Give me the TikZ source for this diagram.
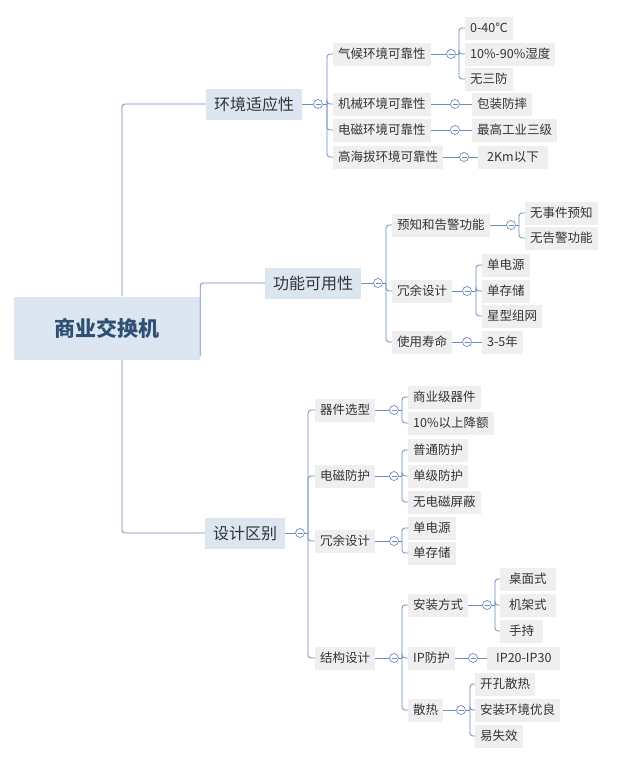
\documentclass[tikz,border=0pt]{standalone}
\usepackage{fontspec}
\setmainfont{Noto Sans CJK SC}
\begin{document}
\begin{tikzpicture}[x=1pt,y=-1pt,
 ln/.style={draw=lc,line width=0.8pt,rounded corners=3pt},
 leaf/.style={anchor=west,fill=bx,inner xsep=5pt,minimum height=23pt,font=\fontsize{12.5}{14}\selectfont,text=tx},
 lone/.style={anchor=center,fill=lb,minimum height=31pt,font=\fontsize{16}{18}\selectfont,text=tx,inner xsep=8pt},
 tog/.style={circle,draw=lc,fill=white,line width=0.7pt,minimum size=9pt,inner sep=0pt,
   path picture={\draw[lc,line width=0.7pt] ([xshift=-2.5pt]path picture bounding box.center) -- ([xshift=2.5pt]path picture bounding box.center);}}]
\definecolor{lc}{HTML}{6A8CBF}\definecolor{bx}{HTML}{EFEFEF}\definecolor{lb}{HTML}{DCE6F1}\definecolor{tx}{HTML}{333333}\definecolor{rc}{HTML}{2F4F73}
\useasboundingbox (0,0) rectangle (624,763);
% root
\node[fill=lb,minimum width=186pt,minimum height=63pt,font=\fontsize{21}{24}\selectfont\bfseries,text=rc] (root) at (107,328) {商业交换机};
% level 1
\node[lone] (A) at (254,104) {环境适应性};
\node[lone] (B) at (313,283) {功能可用性};
\node[lone] (C) at (245,533) {设计区别};
\draw[ln] ([xshift=15pt]root.north) |- (A.west);
\draw[ln] ([xshift=15pt]root.south) |- (C.west);
\draw[ln] ([yshift=-28pt]root.east) -- ++(0,-6) |- (B.west);
% ---- A
\node[tog] (tA) at (318,104) {};
\coordinate (sA) at (327,104);
\draw[ln] (A.east) -- (tA.west); \draw[ln] (tA.east) -- (sA);
\node[leaf] (A1) at (333,54) {气候环境可靠性};
\node[leaf] (A2) at (333,104) {机械环境可靠性};
\node[leaf] (A3) at (333,130) {电磁环境可靠性};
\node[leaf] (A4) at (333,157) {高海拔环境可靠性};
\foreach \c in {A1,A2,A3,A4} \draw[ln] (sA) |- (\c.west);
\node[tog] (tA1) at (451,54) {}; \coordinate (sA1) at (459,54);
\draw[ln] (A1.east) -- (tA1.west); \draw[ln] (tA1.east) -- (sA1);
\node[leaf] (A11) at (465,28) {0-40℃};
\node[leaf] (A12) at (465,54) {10\%-90\%湿度};
\node[leaf] (A13) at (465,79) {无三防};
\foreach \c in {A11,A12,A13} \draw[ln] (sA1) |- (\c.west);
\node[tog] (tA2) at (455,104) {}; \node[leaf] (A21) at (472,104) {包装防摔};
\draw[ln] (A2.east) -- (tA2.west); \draw[ln] (tA2.east) -- (A21.west);
\node[tog] (tA3) at (455,130) {}; \node[leaf] (A31) at (472,130) {最高工业三级};
\draw[ln] (A3.east) -- (tA3.west); \draw[ln] (tA3.east) -- (A31.west);
\node[tog] (tA4) at (464,157) {}; \node[leaf,inner xsep=9pt] (A41) at (478,157) {2Km以下};
\draw[ln] (A4.east) -- (tA4.west); \draw[ln] (tA4.east) -- (A41.west);
% ---- B
\node[tog] (tB) at (378,283) {}; \coordinate (sB) at (386,283);
\draw[ln] (B.east) -- (tB.west); \draw[ln] (tB.east) -- (sB);
\node[leaf] (B1) at (392,225) {预知和告警功能};
\node[leaf] (B2) at (392,291) {冗余设计};
\node[leaf] (B3) at (392,342) {使用寿命};
\foreach \c in {B1,B2,B3} \draw[ln] (sB) |- (\c.west);
\node[tog] (tB1) at (511,225) {}; \coordinate (sB1) at (519,225);
\draw[ln] (B1.east) -- (tB1.west); \draw[ln] (tB1.east) -- (sB1);
\node[leaf] (B11) at (525,213) {无事件预知};
\node[leaf] (B12) at (525,238) {无告警功能};
\foreach \c in {B11,B12} \draw[ln] (sB1) |- (\c.west);
\node[tog] (tB2) at (467,291) {}; \coordinate (sB2) at (476,291);
\draw[ln] (B2.east) -- (tB2.west); \draw[ln] (tB2.east) -- (sB2);
\node[leaf] (B21) at (482,265) {单电源};
\node[leaf] (B22) at (482,291) {单存储};
\node[leaf] (B23) at (482,316) {星型组网};
\foreach \c in {B21,B22,B23} \draw[ln] (sB2) |- (\c.west);
\node[tog] (tB3) at (467,342) {}; \node[leaf] (B31) at (482,342) {3-5年};
\draw[ln] (B3.east) -- (tB3.west); \draw[ln] (tB3.east) -- (B31.west);
% ---- C
\node[tog] (tC) at (300,533) {}; \coordinate (sC) at (308,533);
\draw[ln] (C.east) -- (tC.west); \draw[ln] (tC.east) -- (sC);
\node[leaf] (C1) at (315,410) {器件选型};
\node[leaf] (C2) at (315,476) {电磁防护};
\node[leaf] (C3) at (315,541) {冗余设计};
\node[leaf] (C4) at (315,658) {结构设计};
\foreach \c in {C1,C2,C3,C4} \draw[ln] (sC) |- (\c.west);
\node[tog] (tC1) at (394,410) {}; \coordinate (sC1) at (402,410);
\draw[ln] (C1.east) -- (tC1.west); \draw[ln] (tC1.east) -- (sC1);
\node[leaf] (C11) at (408,397) {商业级器件};
\node[leaf] (C12) at (408,423) {10\%以上降额};
\foreach \c in {C11,C12} \draw[ln] (sC1) |- (\c.west);
\node[tog] (tC2) at (394,476) {}; \coordinate (sC2) at (402,476);
\draw[ln] (C2.east) -- (tC2.west); \draw[ln] (tC2.east) -- (sC2);
\node[leaf] (C21) at (408,450) {普通防护};
\node[leaf] (C22) at (408,476) {单级防护};
\node[leaf] (C23) at (408,502) {无电磁屏蔽};
\foreach \c in {C21,C22,C23} \draw[ln] (sC2) |- (\c.west);
\node[tog] (tC3) at (394,541) {}; \coordinate (sC3) at (402,541);
\draw[ln] (C3.east) -- (tC3.west); \draw[ln] (tC3.east) -- (sC3);
\node[leaf] (C31) at (408,528) {单电源};
\node[leaf] (C32) at (408,553) {单存储};
\foreach \c in {C31,C32} \draw[ln] (sC3) |- (\c.west);
\node[tog] (tC4) at (394,658) {}; \coordinate (sC4) at (402,658);
\draw[ln] (C4.east) -- (tC4.west); \draw[ln] (tC4.east) -- (sC4);
\node[leaf] (C41) at (408,605) {安装方式};
\node[leaf] (C42) at (408,658) {IP防护};
\node[leaf] (C43) at (408,710) {散热};
\foreach \c in {C41,C42,C43} \draw[ln] (sC4) |- (\c.west);
\node[tog] (tC41) at (487,605) {}; \coordinate (sC41) at (495,605);
\draw[ln] (C41.east) -- (tC41.west); \draw[ln] (tC41.east) -- (sC41);
\node[leaf,inner xsep=9pt] (C411) at (500,579) {桌面式};
\node[leaf,inner xsep=9pt] (C412) at (500,605) {机架式};
\node[leaf,inner xsep=9pt] (C413) at (500,631) {手持};
\foreach \c in {C411,C412,C413} \draw[ln] (sC41) |- (\c.west);
\node[tog] (tC42) at (473,658) {}; \node[leaf,inner xsep=9pt] (C421) at (487,658) {IP20-IP30};
\draw[ln] (C42.east) -- (tC42.west); \draw[ln] (tC42.east) -- (C421.west);
\node[tog] (tC43) at (461,710) {}; \coordinate (sC43) at (470,710);
\draw[ln] (C43.east) -- (tC43.west); \draw[ln] (tC43.east) -- (sC43);
\node[leaf] (C431) at (475,684) {开孔散热};
\node[leaf] (C432) at (475,710) {安装环境优良};
\node[leaf] (C433) at (475,736) {易失效};
\foreach \c in {C431,C432,C433} \draw[ln] (sC43) |- (\c.west);
\end{tikzpicture}
\end{document}
